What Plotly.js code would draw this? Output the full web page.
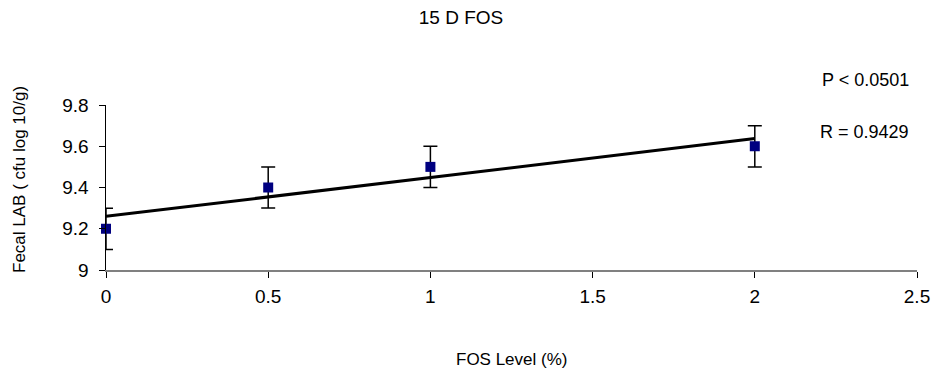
<!DOCTYPE html>
<html>
<head>
<meta charset="utf-8">
<script src="https://cdn.plot.ly/plotly-3.0.1.min.js"></script>
<style>html,body{margin:0;padding:0;background:#fff;}#chart{width:936px;height:370px;}</style>
</head>
<body>
<div id="chart"></div>
<script>
// Data
const fosLevel = [0, 0.5, 1, 2];
const fecalLAB = [9.2, 9.4, 9.5, 9.6];
const errLAB = [0.1, 0.1, 0.1, 0.1];
const xTickVals = [0, 0.5, 1, 1.5, 2, 2.5];
const xTickText = ["0", "0.5", "1", "1.5", "2", "2.5"];
const yTickVals = [9, 9.2, 9.4, 9.6, 9.8];
const yTickText = ["9", "9.2", "9.4", "9.6", "9.8"];
const titleText = "15 D FOS";
const xTitle = "FOS Level (%)";
const yTitle = "Fecal LAB ( cfu log 10/g)";
const pText = "P < 0.0501";
const rText = "R = 0.9429";

// linear trendline (least squares) from the data
const n = fosLevel.length;
const mx = fosLevel.reduce((a,b)=>a+b,0)/n;
const my = fecalLAB.reduce((a,b)=>a+b,0)/n;
let sxy = 0, sxx = 0;
for (let i = 0; i < n; i++) { sxy += (fosLevel[i]-mx)*(fecalLAB[i]-my); sxx += (fosLevel[i]-mx)**2; }
const slope = sxy/sxx, intercept = my - slope*mx;
const trendX = [Math.min(...fosLevel), Math.max(...fosLevel)];
const trendY = trendX.map(x => intercept + slope*x);

const font = "Liberation Sans, Arial, sans-serif";

const traces = [
  {
    x: trendX, y: trendY, mode: "lines", type: "scatter",
    line: {color: "#000000", width: 3}, hoverinfo: "skip", cliponaxis: false
  },
  {
    x: fosLevel, y: fecalLAB, mode: "markers", type: "scatter",
    marker: {symbol: "square", size: 10, color: "#000080"},
    error_y: {type: "data", array: errLAB, visible: true, color: "#000000", thickness: 1.5, width: 7},
    cliponaxis: false
  }
];

const layout = {
  width: 936, height: 370,
  margin: {l: 106, r: 19, t: 105, b: 100},
  paper_bgcolor: "#ffffff", plot_bgcolor: "#ffffff",
  showlegend: false,
  font: {family: font, size: 18, color: "#000000"},
  title: {text: titleText, x: 0.4925, xanchor: "center", y: 0.952, yanchor: "middle", font: {family: font, size: 19, color: "#000000"}},
  xaxis: {
    range: [0, 2.5], tickvals: xTickVals, ticktext: xTickText,
    showgrid: false, zeroline: false, showline: true, linecolor: "#808080", linewidth: 1.5,
    ticks: "outside", ticklen: 6, tickcolor: "#000000", tickwidth: 1, ticklabelstandoff: 3,
    tickfont: {family: font, size: 19, color: "#000000"}
  },
  yaxis: {
    range: [9, 9.8], tickvals: yTickVals, ticktext: yTickText,
    showgrid: false, zeroline: false, showline: true, linecolor: "#000000", linewidth: 1.5,
    ticks: "outside", ticklen: 6, tickcolor: "#000000", tickwidth: 1, ticklabelstandoff: 6,
    tickfont: {family: font, size: 19, color: "#000000"}
  },
  annotations: [
    {text: xTitle, xref: "paper", yref: "paper", x: 0.5, y: (270-359)/165, xanchor: "center", yanchor: "middle", showarrow: false, font: {family: font, size: 17, color: "#000000"}},
    {text: yTitle, xref: "paper", yref: "paper", x: (19-106)/811, y: (270-180)/165, textangle: -90, xanchor: "center", yanchor: "middle", showarrow: false, font: {family: font, size: 17, color: "#000000"}},
    {text: pText, xref: "paper", yref: "paper", x: (911-106)/811, y: (270-80)/165, xanchor: "right", yanchor: "middle", showarrow: false, font: {family: font, size: 18, color: "#000000"}},
    {text: rText, xref: "paper", yref: "paper", x: (911-106)/811, y: (270-132)/165, xanchor: "right", yanchor: "middle", showarrow: false, font: {family: font, size: 18, color: "#000000"}}
  ]
};

Plotly.newPlot("chart", traces, layout, {displayModeBar: false, staticPlot: true});
</script>
</body>
</html>
